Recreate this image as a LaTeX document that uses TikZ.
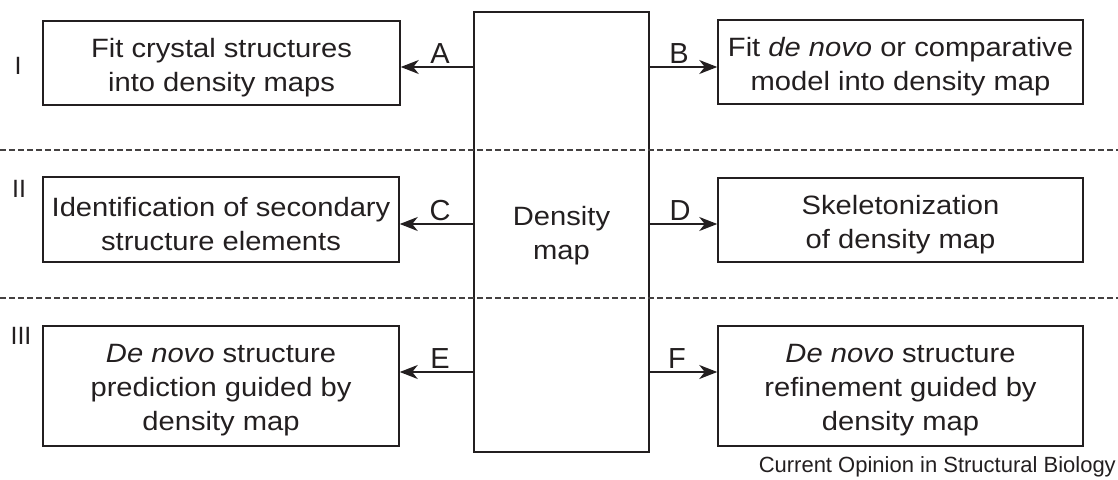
\documentclass[tikz,border=0pt]{standalone}
\usepackage{fontspec}
\setmainfont{Liberation Sans}
\newfontfamily\boxfont[FakeStretch=1.1]{Liberation Sans}
\usetikzlibrary{arrows.meta}
\definecolor{ink}{HTML}{231F20}
\begin{document}
\begin{tikzpicture}[x=1pt,y=-1pt,
  boxstyle/.style={draw=ink, line width=1.5pt, inner sep=0pt},
  txt/.style={inner sep=0pt, align=center, text=ink,
    font=\boxfont\fontsize{26.5}{34}\selectfont},
  lbl/.style={anchor=base, text=ink, font=\fontsize{29}{33}\selectfont, inner sep=0pt},
  roman/.style={text=ink, font=\fontsize{25}{30}\selectfont, inner sep=0pt},
  arr/.style={draw=ink, line width=1.5pt, -{Stealth[length=18pt,width=14pt,inset=5.5pt]}},
  sep/.style={draw=ink!85, line width=1.1pt, dash pattern=on 6pt off 3pt}
]
\useasboundingbox (0,0) rectangle (1118,479);

% central box
\node[boxstyle, minimum width=175pt, minimum height=440pt] (dm) at (561.5,232) {};
\node[txt] (tdm) at ([yshift=-4pt]dm.center) {Density\\map};

% left boxes
\node[boxstyle, minimum width=357pt, minimum height=84pt] (A) at (221.5,63) {};
\node[boxstyle, minimum width=356pt, minimum height=85pt] (C) at (221,219.5) {};
\node[boxstyle, minimum width=356pt, minimum height=120pt] (E) at (221,386) {};
\node[txt] (tA) at ([yshift=-4.5pt]A.center) {Fit crystal structures\\into density maps};
\node[txt] (tC) at ([yshift=-4.5pt]C.center) {Identification of secondary\\structure elements};
\node[txt] (tE) at ([yshift=-4.5pt]E.center) {\textit{De novo} structure\\prediction guided by\\density map};

% right boxes
\node[boxstyle, minimum width=365pt, minimum height=84pt] (B) at (900.5,62) {};
\node[boxstyle, minimum width=365pt, minimum height=84pt] (D) at (900.5,220) {};
\node[boxstyle, minimum width=365pt, minimum height=120pt] (F) at (900.5,386) {};
\node[txt] (tB) at ([yshift=-4.5pt]B.center) {Fit \textit{de novo} or comparative\\model into density map};
\node[txt] (tD) at ([yshift=-4.5pt]D.center) {Skeletonization\\of density map};
\node[txt] (tF) at ([yshift=-4.5pt]F.center) {\textit{De novo} structure\\refinement guided by\\density map};

% separators
\coordinate (s1l) at (0,150); \coordinate (s1r) at (1118,150);
\coordinate (s2l) at (0,298); \coordinate (s2r) at (1118,298);
\draw[sep] (s1l) -- (s1r);
\draw[sep] (s2l) -- (s2r);

% roman numerals
\node[roman] (r1) at (18,66) {I};
\node[roman] (r2) at (19,189) {II};
\node[roman] (r3) at (21,336) {III};

% arrow start points on the density map box
\coordinate (pA) at (474,67);
\coordinate (pC) at (474,224);
\coordinate (pE) at (474,372);
\coordinate (pB) at (649,67);
\coordinate (pD) at (649,224);
\coordinate (pF) at (649,372);

\draw[arr] (pA) -- (pA -| A.east);
\draw[arr] (pC) -- (pC -| C.east);
\draw[arr] (pE) -- (pE -| E.east);
\draw[arr] (pB) -- (pB -| B.west);
\draw[arr] (pD) -- (pD -| D.west);
\draw[arr] (pF) -- (pF -| F.west);

% arrow labels
\node[lbl] (lA) at (440,63) {A};
\node[lbl] (lC) at (440,220) {C};
\node[lbl] (lE) at (440,368) {E};
\node[lbl] (lB) at (679,63) {B};
\node[lbl] (lD) at (680,220) {D};
\node[lbl] (lF) at (677,368) {F};

% caption
\node[anchor=base east, text=ink, font=\fontsize{22}{25}\selectfont, inner sep=0pt] (cap) at (1116,472) {Current Opinion in Structural Biology};
\end{tikzpicture}
\end{document}
